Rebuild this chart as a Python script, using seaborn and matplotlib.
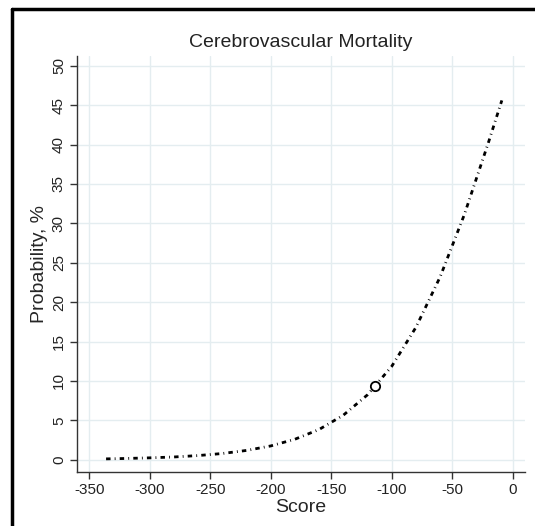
# Cerebrovascular mortality: predicted probability vs score
import matplotlib
matplotlib.use("Agg")
import matplotlib.pyplot as plt
import seaborn as sns
import pandas as pd
from matplotlib.lines import Line2D

# values
score = [-336, -320, -300, -280, -260, -240, -220, -200, -180, -160,
         -140, -120, -100, -80, -60, -40, -20, -9]
prob = [0.11, 0.16, 0.24, 0.35, 0.53, 0.79, 1.18, 1.75, 2.6, 3.84,
        5.65, 8.24, 11.85, 16.8, 23.2, 31.1, 40.3, 45.6]
marker_score = [-113.5]
marker_prob = [9.3]

x_ticks = [-350, -300, -250, -200, -150, -100, -50, 0]
y_ticks = [0, 5, 10, 15, 20, 25, 30, 35, 40, 45, 50]

df = pd.DataFrame({"Score": score, "Probability": prob})
mk = pd.DataFrame({"Score": marker_score, "Probability": marker_prob})

sns.set_theme(style="whitegrid")
plt.rcParams["font.family"] = ["Liberation Sans", "DejaVu Sans"]

fig = plt.figure(figsize=(5.35, 5.26), dpi=100)
ax = fig.add_axes([0.144, 0.102, 0.837, 0.791])

sns.lineplot(data=df, x="Score", y="Probability", ax=ax, color="black",
             linewidth=2.0, linestyle=(0, (1.6, 1.5, 0.3, 1.5)))
sns.scatterplot(data=mk, x="Score", y="Probability", ax=ax, s=45,
                facecolor="white", edgecolor="black", linewidth=1.3, zorder=5)

ax.set_xlim(-360, 10)
ax.set_ylim(-1.6, 51.2)
ax.set_xticks(x_ticks)
ax.set_yticks(y_ticks)
ax.set_xticklabels([str(v) for v in x_ticks], fontsize=11)
ax.set_yticklabels([str(v) for v in y_ticks], fontsize=11, rotation=90, va="center")

ax.grid(True, color="#e4edf0", linewidth=1)
for side in ["top", "right"]:
    ax.spines[side].set_visible(False)
for side in ["left", "bottom"]:
    ax.spines[side].set_color("#333333")
    ax.spines[side].set_linewidth(1)
ax.tick_params(axis="both", which="both", direction="out", length=5,
               width=1, color="#333333", labelcolor="#222222", pad=3,
               bottom=True, left=True)

ax.set_xlabel("Score", fontsize=14, labelpad=1)
ax.set_ylabel("Probability, %", fontsize=14, labelpad=3)
ax.set_title("Cerebrovascular Mortality", fontsize=14, color="#222222", pad=7)

# outer frame (left and top edges visible)
fig.add_artist(Line2D([0.023, 0.023], [0, 0.982], transform=fig.transFigure,
                      color="black", linewidth=2.5))
fig.add_artist(Line2D([0.023, 1.0], [0.982, 0.982], transform=fig.transFigure,
                      color="black", linewidth=2.5))

fig.savefig("out.png", dpi=100)
